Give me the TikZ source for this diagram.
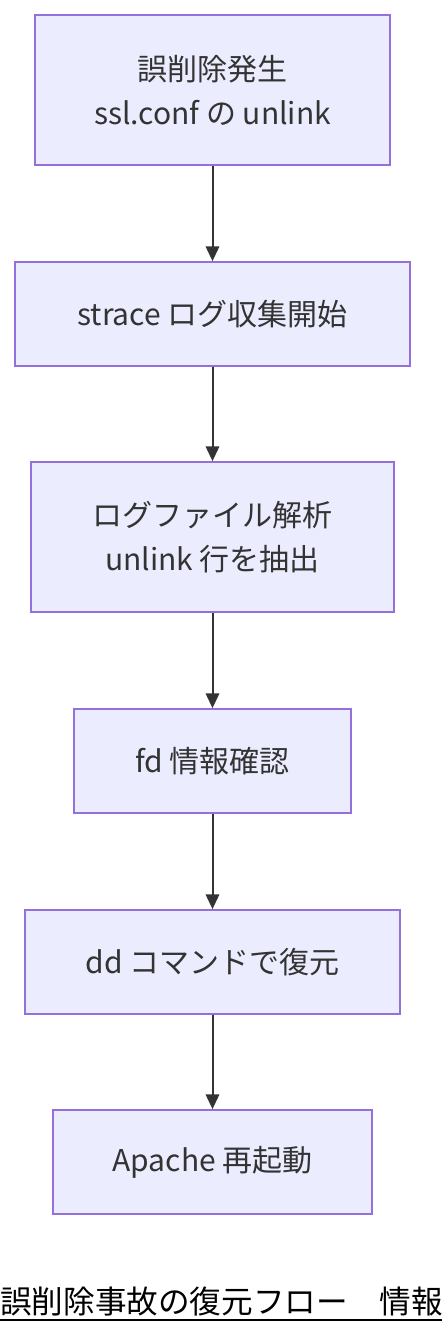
\documentclass[tikz,border=0pt]{standalone}
\usepackage{fontspec}
\setmainfont{Noto Sans CJK JP}
\newfontfamily\titlefont{Noto Sans CJK JP}
\usetikzlibrary{arrows.meta}
\definecolor{nodefill}{HTML}{ECECFF}
\definecolor{nodeline}{HTML}{9370DB}
\definecolor{txt}{HTML}{333333}
\begin{document}
\begin{tikzpicture}[x=0.75pt,y=-0.75pt,
  box/.style={draw=nodeline,fill=nodefill,line width=1.3pt,text=txt,font=\fontsize{22.5}{33}\selectfont,align=center,inner sep=0pt},
  conn/.style={draw=txt,line width=1.5pt,-{Triangle[length=11pt,width=10pt]}}]
\useasboundingbox (0,0) rectangle (442,1340);
\node[box,minimum width=355*0.75pt,minimum height=150*0.75pt] (n1) at (212.5,90) {誤削除発生\\ssl.conf の unlink};
\node[box,minimum width=395*0.75pt,minimum height=104*0.75pt] (n2) at (212.5,314) {strace ログ収集開始};
\node[box,minimum width=363*0.75pt,minimum height=150*0.75pt] (n3) at (212.5,537) {ログファイル解析\\unlink 行を抽出};
\node[box,minimum width=277*0.75pt,minimum height=104*0.75pt] (n4) at (212.5,761) {fd 情報確認};
\node[box,minimum width=375*0.75pt,minimum height=104*0.75pt] (n5) at (212.5,962) {dd コマンドで復元};
\node[box,minimum width=319*0.75pt,minimum height=104*0.75pt] (n6) at (212.5,1162) {Apache 再起動};
\draw[conn] (n1) -- (n2);
\draw[conn] (n2) -- (n3);
\draw[conn] (n3) -- (n4);
\draw[conn] (n4) -- (n5);
\draw[conn] (n5) -- (n6);
\node[anchor=base west,inner sep=0pt,font=\titlefont\fontsize{23.7}{26}\selectfont,text=black] (title) at (0,1313) {誤削除事故の復元フロー　情報};
\draw[black,line width=1.6pt] (0,1320) -- (442,1320);
\end{tikzpicture}
\end{document}
